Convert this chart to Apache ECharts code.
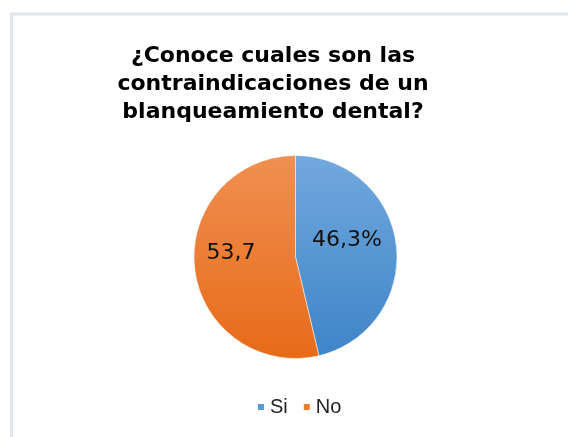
<!DOCTYPE html>
<html><head><meta charset="utf-8">
<script src="https://cdn.jsdelivr.net/npm/echarts@6/dist/echarts.min.js"></script>
<style>html,body{margin:0;padding:0;background:#fff}#c{width:568px;height:437px}</style>
</head><body><div id="c"></div>
<script>
const titleText = "¿Conoce cuales son las\ncontraindicaciones de un\nblanqueamiento dental?";
const categories = ["Si", "No"];
const values = [46.3, 53.7];
const labelTexts = ["46,3%", "53,7"];

const chart = echarts.init(document.getElementById('c'), null, {renderer: 'canvas'});
const colors = [
  new echarts.graphic.LinearGradient(0, 0, 0, 1, [{offset: 0, color: '#72a8dd'}, {offset: 1, color: '#3e85c8'}]),
  new echarts.graphic.LinearGradient(0, 0, 0, 1, [{offset: 0, color: '#f08f52'}, {offset: 1, color: '#e76b18'}])
];
const legendColors = ['#5b9bd5', '#ed7d31'];
chart.setOption({
  animation: false,
  graphic: [{
    type: 'rect', shape: {x: 11.5, y: 14, width: 620, height: 500},
    style: {fill: 'none', stroke: '#e2e6ee', lineWidth: 3}, silent: true, z: -1
  }],
  title: {
    text: titleText, left: 268, textAlign: 'center', top: 37,
    textStyle: {fontFamily: 'DejaVu Sans', fontWeight: 'bold', fontSize: 22, lineHeight: 28, color: '#000'}
  },
  legend: {
    data: categories.map((c, i) => ({name: c, itemStyle: {color: legendColors[i]}})),
    top: 397, left: 256, padding: 0, itemWidth: 8, itemHeight: 8, itemGap: 14,
    icon: 'rect',
    textStyle: {fontFamily: 'Liberation Sans', fontSize: 20, lineHeight: 20, color: '#222', padding: [0, 0, 0, 0]}
  },
  series: [{
    type: 'pie', center: [295.5, 257], radius: 101.5, startAngle: 90, clockwise: true,
    itemStyle: {borderColor: '#fff', borderWidth: 0.5},
    label: {
      show: true, position: 'inside',
      formatter: p => labelTexts[p.dataIndex],
      fontFamily: 'DejaVu Sans', fontSize: 22, color: '#111'
    },
    labelLayout: function (p) {
      return p.dataIndex === 0 ? {dx: -2, dy: -10} : {dx: -11, dy: -10};
    },
    labelLine: {show: false},
    data: categories.map((c, i) => ({name: c, value: values[i], itemStyle: {color: colors[i]}}))
  }]
});
</script></body></html>
